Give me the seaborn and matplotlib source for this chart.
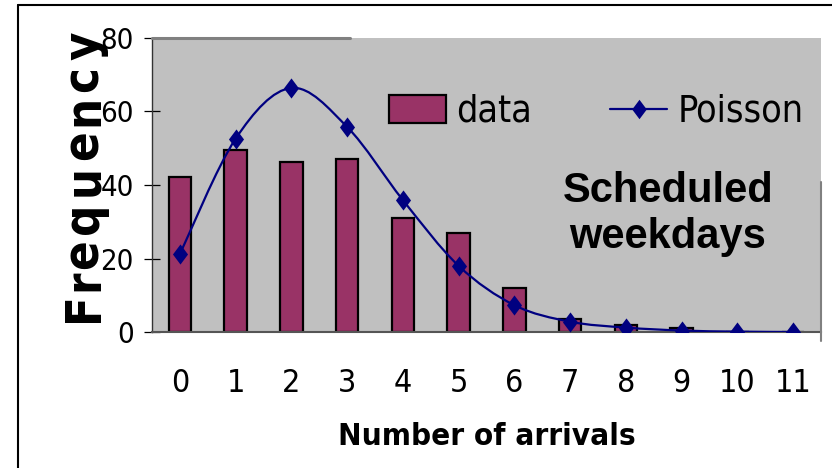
import numpy as np
import pandas as pd
import seaborn as sns
import matplotlib.pyplot as plt
from matplotlib.path import Path
from matplotlib.patches import PathPatch, Patch
from matplotlib.lines import Line2D
from matplotlib import font_manager

# Observed arrival counts versus fitted Poisson frequencies
arrivals = [str(i) for i in range(12)]
observed = [42.2, 49.5, 46.3, 47.0, 31.0, 27.0, 12.0, 3.5, 1.9, 1.1, 0.0, 0.0]
poisson = [21.2, 52.6, 66.4, 55.8, 35.9, 18.0, 7.3, 2.8, 1.2, 0.4, 0.1, 0.0]
y_ticks = [0, 20, 40, 60, 80]
y_title = "Frequency"

BAR = "#993366"
NAVY = "#000080"
PLOT_BG = "#C0C0C0"

sns.set_theme(style="white")
installed = {f.name for f in font_manager.fontManager.ttflist}
if "Liberation Sans Narrow" in installed:
    narrow = dict(family="Liberation Sans Narrow")
else:
    narrow = dict(family="DejaVu Sans", stretch="condensed")
plt.rcParams["font.family"] = ["Liberation Sans", "DejaVu Sans"]
for key in ["text.color", "axes.labelcolor", "xtick.color", "ytick.color"]:
    plt.rcParams[key] = "black"

fig = plt.figure(figsize=(8.32, 4.68), dpi=100)
W, H = 832, 468
x0, x1, y0, y1 = 152, 821, 38, 332
ax = fig.add_axes([x0 / W, 1 - y1 / H, (x1 - x0) / W, (y1 - y0) / H])
ax.set_facecolor(PLOT_BG)

df = pd.DataFrame({"arrivals": arrivals, "observed": observed, "poisson": poisson})
sns.barplot(data=df, x="arrivals", y="observed", color=BAR, width=0.4,
            edgecolor="black", linewidth=1.6, saturation=1, ax=ax, zorder=2)

# Smoothed Poisson curve (Catmull-Rom segments as cubic Beziers)
xs = np.arange(len(poisson), dtype=float)
ys = np.asarray(poisson, dtype=float)
pts = np.column_stack([xs, ys])
verts = [pts[0]]
codes = [Path.MOVETO]
for i in range(len(pts) - 1):
    p_prev = pts[i - 1] if i > 0 else pts[i]
    p_next2 = pts[i + 2] if i + 2 < len(pts) else pts[i + 1]
    c1 = pts[i] + (pts[i + 1] - p_prev) / 6.0
    c2 = pts[i + 1] - (p_next2 - pts[i]) / 6.0
    verts += [c1, c2, pts[i + 1]]
    codes += [Path.CURVE4] * 3
ax.add_patch(PathPatch(Path(verts, codes), facecolor="none", edgecolor=NAVY,
                       linewidth=1.6, zorder=3))

diamond = Path([(0, 1), (0.75, 0), (0, -1), (-0.75, 0), (0, 1)],
               [Path.MOVETO, Path.LINETO, Path.LINETO, Path.LINETO, Path.CLOSEPOLY])
sns.scatterplot(x=xs, y=ys, marker=diamond, s=210, color=NAVY, edgecolor=NAVY,
                linewidth=0, ax=ax, zorder=4, legend=False)

ax.set_xlim(-0.5, 11.5)
ax.set_ylim(0, 80)
ax.set_yticks(y_ticks)
ax.set_yticklabels([str(v) for v in y_ticks], fontsize=21, **narrow)
ax.set_xticks(range(len(arrivals)))
ax.set_xticklabels(arrivals, fontsize=23, **narrow)
ax.set_xticks(np.arange(-0.5, 12, 1.0), minor=True)
ax.tick_params(axis="x", which="major", length=0, pad=26)
ax.tick_params(axis="x", which="minor", direction="inout", length=16, width=0.9, color="black")
ax.tick_params(axis="y", which="major", direction="inout", length=12, width=0.9,
               color="black", pad=7, left=True)
ax.set_xlabel("Number of arrivals", fontsize=22.5, fontweight="bold", **narrow)
ax.xaxis.label.set_va("baseline")
ax.xaxis.set_label_coords(0.5, (y1 - 445) / (y1 - y0))
ax.set_ylabel("")
for side in ["top", "right"]:
    ax.spines[side].set_visible(False)
ax.spines["left"].set_color("#333333")
ax.spines["left"].set_linewidth(1.0)
ax.spines["bottom"].set_color("#555555")
ax.spines["bottom"].set_linewidth(1.5)

# Partial border lines of the plot area
ax.plot([0, 0.296], [1, 1], transform=ax.transAxes, color="#808080", lw=2.2,
        clip_on=False, zorder=5)
ax.plot([1.0, 1.0], [0.51, -0.03], transform=ax.transAxes, color="#808080", lw=1.5,
        clip_on=False, zorder=5)

# Rotated, widely spaced axis title: one letter at a time along the left edge
letter_centres = [307, 280, 254, 218, 181, 145, 110, 79, 46]
for ch, yc in zip(y_title, letter_centres):
    fig.text(98 / W, 1 - yc / H, ch, rotation=90, rotation_mode="anchor",
             ha="center", va="baseline", fontsize=35, fontweight="bold", **narrow)

fig.text(668 / W, 1 - 214 / H, "Scheduled\nweekdays", ha="center", va="center",
         fontsize=30, fontweight="bold", family="Liberation Sans", linespacing=1.2)

handles = [
    Patch(facecolor=BAR, edgecolor="black", linewidth=1.6),
    Line2D([], [], color=NAVY, lw=1.6, marker=diamond, markersize=14,
           markerfacecolor=NAVY, markeredgewidth=0),
]
ax.legend(handles, ["data", "Poisson"], ncol=2, frameon=False, loc="center",
          bbox_to_anchor=((596 - x0) / (x1 - x0), (y1 - 112) / (y1 - y0)),
          prop=font_manager.FontProperties(size=27, **narrow),
          handlelength=1.52, handleheight=0.75, handletextpad=0.27,
          columnspacing=2.1, numpoints=1, borderpad=0)

# Outer chart frame
fig.add_artist(Line2D([18 / W, 1], [1 - 5 / H, 1 - 5 / H], color="black", lw=1.5))
fig.add_artist(Line2D([18 / W, 18 / W], [0, 1 - 5 / H], color="black", lw=1.5))

fig.savefig("out.png", dpi=100)
